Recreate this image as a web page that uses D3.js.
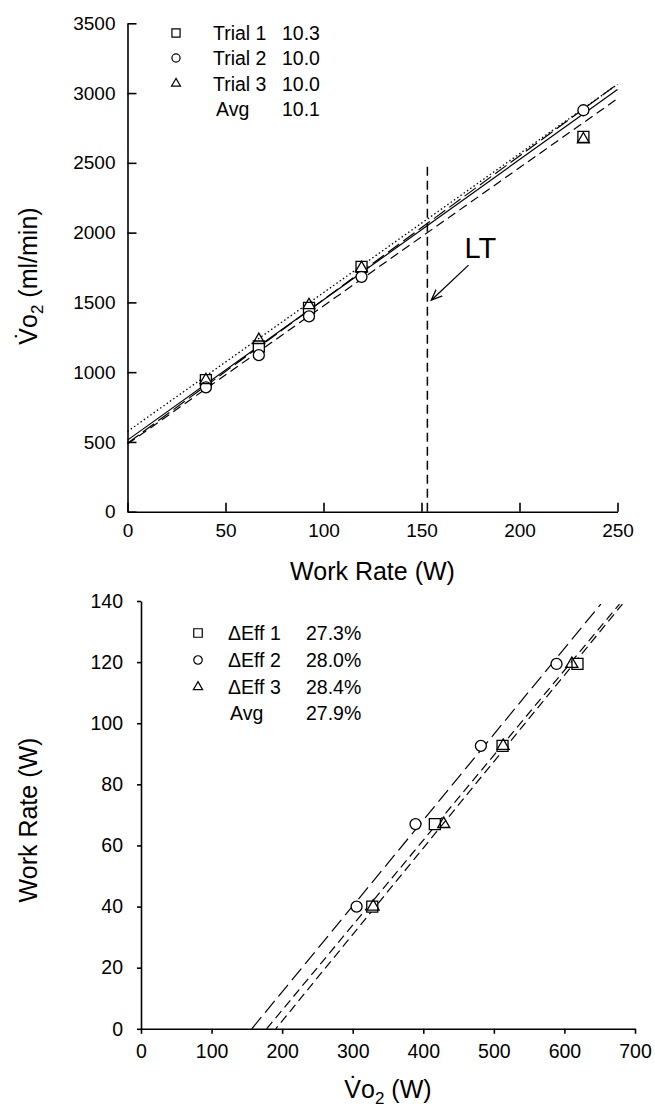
<!DOCTYPE html>
<html lang="en">
<head>
<meta charset="UTF-8">
<title>VO2 vs work rate</title>
<script src="https://cdn.jsdelivr.net/npm/d3@7"></script>
<style>
  * { margin: 0; padding: 0; }
  body { background: #fff; }
  svg { display: block; font-family: 'Liberation Sans', Arial, sans-serif; }
</style>
</head>
<body>
<svg></svg>
<script>
// top panel: VO2 (ml/min) against work rate (W)
const workRate = [40, 67, 92.6, 119.4, 232.6];
const trial1Vo2 = [943, 1184, 1460, 1755, 2686];
const trial2Vo2 = [891, 1122, 1400, 1683, 2877];
const trial3Vo2 = [943, 1230, 1480, 1745, 2668];
const topFitIntercept = [490, 485, 575, 513]; // trial 1, 2, 3, avg
const topFitSlope = [10.3, 9.9, 9.95, 10.05];
const topLegendNames = ['Trial 1', 'Trial 2', 'Trial 3', 'Avg'];
const topLegendValues = ['10.3', '10.0', '10.0', '10.1'];
const workTicks = [0, 50, 100, 150, 200, 250];
const vo2Ticks = [0, 500, 1000, 1500, 2000, 2500, 3000, 3500];
const ltWork = 153, ltTop = 2500;
const ltArrow = [[174, 1767], [155, 1516]];
const ltLabelAt = [172, 1817];

// bottom panel: work rate against VO2 expressed in W
const effWork = [40, 67, 92.6, 119.4];
const eff1Vo2 = [327.7, 416.4, 512.3, 618.5];
const eff2Vo2 = [305.5, 389, 481.6, 588.8];
const eff3Vo2 = [329, 429, 513.2, 610.5];
const effFitX0 = [178, 157, 191];
const effFitSlope = [0.278, 0.281, 0.283];
const effLegendNames = ['\u0394Eff 1', '\u0394Eff 2', '\u0394Eff 3', 'Avg'];
const effLegendValues = ['27.3%', '28.0%', '28.4%', '27.9%'];
const vo2WTicks = [0, 100, 200, 300, 400, 500, 600, 700];
const effWorkTicks = [0, 20, 40, 60, 80, 100, 120, 140];

const svg = d3.select('svg').attr('width', 655).attr('height', 1108);
const FONT = "'Liberation Sans', Arial, sans-serif";

const shapes = [d3.symbolSquare, d3.symbolCircle, d3.symbolTriangle];
const shapeSize = [121, 95, 62];
const fills = ['#fff', '#fff', 'none'];

svg.append('defs').append('marker')
    .attr('id', 'arrow')
    .attr('markerUnits', 'userSpaceOnUse')
    .attr('viewBox', '0 -6 12 12')
    .attr('refX', 11).attr('refY', 0)
    .attr('markerWidth', 12).attr('markerHeight', 12)
    .attr('orient', 'auto')
    .append('path')
    .attr('d', 'M0,-4.5L11,0L0,4.5')
    .attr('fill', 'none').attr('stroke', '#000').attr('stroke-width', 1.3);

const styleAxis = (g, size) => {
    g.attr('font-family', FONT).attr('font-size', size);
    g.selectAll('path, line').attr('stroke', '#000').attr('stroke-width', 1.6);
    g.selectAll('text').attr('fill', '#000');
};
const plain = d3.format('d');

// ---------- top chart ----------
const x1 = d3.scaleLinear().domain([0, 250]).range([127.5, 617.5]);
const y1 = d3.scaleLinear().domain([0, 3500]).range([511.7, 23.3]);

svg.append('g').attr('transform', `translate(0,${y1(0)})`)
    .call(d3.axisBottom(x1).tickValues(workTicks).tickFormat(plain)
        .tickSizeInner(-9).tickSizeOuter(0).tickPadding(12))
    .call(g => styleAxis(g, 19));
svg.append('g').attr('transform', `translate(${x1(0)},0)`)
    .call(d3.axisLeft(y1).tickValues(vo2Ticks).tickFormat(plain)
        .tickSizeInner(-9).tickSizeOuter(0).tickPadding(12))
    .call(g => styleAxis(g, 19));

const topDash = ['14,5', '9,5', '1.5,2.5', null];
topFitIntercept.forEach((b, i) => {
    const pts = [[0, b], [250, b + topFitSlope[i] * 250]];
    svg.append('path')
        .attr('d', d3.line().x(d => x1(d[0])).y(d => y1(d[1]))(pts))
        .attr('fill', 'none').attr('stroke', '#000')
        .attr('stroke-width', i === 2 ? 1.3 : 1.2)
        .attr('stroke-dasharray', topDash[i]);
});

// LT line and label
svg.append('line')
    .attr('x1', x1(ltWork)).attr('x2', x1(ltWork))
    .attr('y1', y1(0)).attr('y2', y1(ltTop))
    .attr('stroke', '#000').attr('stroke-width', 1.5).attr('stroke-dasharray', '9,5');
svg.append('line')
    .attr('x1', x1(ltArrow[0][0])).attr('y1', y1(ltArrow[0][1]))
    .attr('x2', x1(ltArrow[1][0])).attr('y2', y1(ltArrow[1][1]))
    .attr('stroke', '#000').attr('stroke-width', 1.3).attr('marker-end', 'url(#arrow)');
svg.append('text')
    .attr('x', x1(ltLabelAt[0])).attr('y', y1(ltLabelAt[1]))
    .attr('font-family', FONT).attr('font-size', 29).text('LT');

[trial1Vo2, trial2Vo2, trial3Vo2].forEach((series, i) => {
    svg.append('g').selectAll('path')
        .data(series).enter()
        .append('path')
        .attr('transform', (d, j) => `translate(${x1(workRate[j])},${y1(d)})`)
        .attr('d', d3.symbol().type(shapes[i]).size(shapeSize[i]))
        .attr('fill', fills[i]).attr('stroke', '#000').attr('stroke-width', 1.3);
});

// top legend
const topRows = [33, 58, 83.5, 109];
topLegendNames.forEach((name, i) => {
    if (i < 3) {
        svg.append('path')
            .attr('transform', `translate(176,${topRows[i]})`)
            .attr('d', d3.symbol().type(shapes[i]).size(shapeSize[i] * 0.55))
            .attr('fill', 'none').attr('stroke', '#000').attr('stroke-width', 1.2);
    }
    svg.append('text').attr('x', i < 3 ? 213 : 216).attr('y', topRows[i] + 7)
        .attr('font-family', FONT).attr('font-size', 19.5).text(name);
    svg.append('text').attr('x', 282).attr('y', topRows[i] + 7)
        .attr('font-family', FONT).attr('font-size', 19.5).text(topLegendValues[i]);
});

// top axis titles
svg.append('text')
    .attr('x', (x1(0) + x1(250)) / 2).attr('y', 580)
    .attr('text-anchor', 'middle').attr('font-family', FONT).attr('font-size', 25)
    .text('Work Rate (W)');
const vTitle = (sel, unit) => {
    sel.append('tspan').text('V\u0307o');
    sel.append('tspan').attr('font-size', 17).attr('dy', 6).text('2');
    sel.append('tspan').attr('dy', -6).text(' ' + unit);
};
svg.append('text')
    .attr('transform', 'translate(37,276) rotate(-90)')
    .attr('text-anchor', 'middle').attr('font-family', FONT).attr('font-size', 25)
    .call(s => vTitle(s, '(ml/min)'));

// ---------- bottom chart ----------
const x2 = d3.scaleLinear().domain([0, 700]).range([141, 635]);
const y2 = d3.scaleLinear().domain([0, 140]).range([1028.8, 601]);

svg.append('g').attr('transform', `translate(0,${y2(0)})`)
    .call(d3.axisBottom(x2).tickValues(vo2WTicks).tickFormat(plain)
        .tickSizeInner(5).tickSizeOuter(0).tickPadding(10))
    .call(g => styleAxis(g, 19.5));
svg.append('g').attr('transform', `translate(${x2(0)},0)`)
    .call(d3.axisLeft(y2).tickValues(effWorkTicks).tickFormat(plain)
        .tickSizeInner(4).tickSizeOuter(0).tickPadding(14))
    .call(g => styleAxis(g, 19.5));

const botDash = ['9,5', '15,6', '9,5'];
effFitX0.forEach((x0, i) => {
    const pts = [[x0, 0], [x0 + 139 / effFitSlope[i], 139]];
    svg.append('path')
        .attr('d', d3.line().x(d => x2(d[0])).y(d => y2(d[1]))(pts))
        .attr('fill', 'none').attr('stroke', '#000').attr('stroke-width', 1.2)
        .attr('stroke-dasharray', botDash[i]).attr('stroke-dashoffset', i === 2 ? 6 : 0);
});

[eff1Vo2, eff2Vo2, eff3Vo2].forEach((series, i) => {
    svg.append('g').selectAll('path')
        .data(series).enter()
        .append('path')
        .attr('transform', (d, j) => `translate(${x2(d)},${y2(effWork[j])})`)
        .attr('d', d3.symbol().type(shapes[i]).size(shapeSize[i]))
        .attr('fill', fills[i]).attr('stroke', '#000').attr('stroke-width', 1.3);
});

// bottom legend
const botRows = [633, 660, 687, 713];
effLegendNames.forEach((name, i) => {
    if (i < 3) {
        svg.append('path')
            .attr('transform', `translate(198,${botRows[i]})`)
            .attr('d', d3.symbol().type(shapes[i]).size(shapeSize[i] * 0.6))
            .attr('fill', 'none').attr('stroke', '#000').attr('stroke-width', 1.2);
    }
    svg.append('text').attr('x', i < 3 ? 228 : 230).attr('y', botRows[i] + 7)
        .attr('font-family', FONT).attr('font-size', 19.5).text(name);
    svg.append('text').attr('x', 306).attr('y', botRows[i] + 7)
        .attr('font-family', FONT).attr('font-size', 19.5).text(effLegendValues[i]);
});

svg.append('text')
    .attr('x', (x2(0) + x2(700)) / 2).attr('y', 1098)
    .attr('text-anchor', 'middle').attr('font-family', FONT).attr('font-size', 25)
    .call(s => vTitle(s, '(W)'));
svg.append('text')
    .attr('transform', 'translate(37,820) rotate(-90)')
    .attr('text-anchor', 'middle').attr('font-family', FONT).attr('font-size', 25)
    .text('Work Rate (W)');
</script>
</body>
</html>
